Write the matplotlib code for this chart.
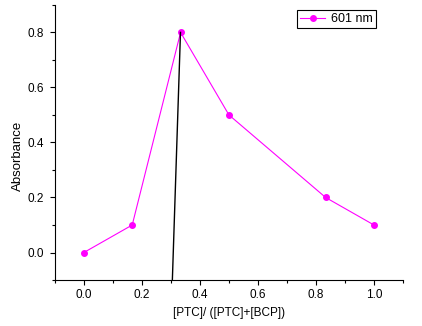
import numpy as np
from matplotlib import pyplot as plt
from matplotlib.ticker import MultipleLocator

# mole fraction data
mole_frac = [0.0, 1/6, 1/3, 0.5, 5/6, 1.0]
absorb = [0.0, 0.1, 0.8, 0.5, 0.2, 0.1]

# extrapolation line
line_x = [0.305, 0.333]
line_y = [-0.1, 0.8]

plt.rcParams['font.family'] = ['Liberation Sans', 'DejaVu Sans']
plt.rcParams['font.size'] = 8.5

fig = plt.figure(figsize=(4.22, 3.26), dpi=100)
ax = fig.add_axes([0.130, 0.141, 0.825, 0.844])

ax.plot(mole_frac, absorb, color='#ff00ff', lw=0.8, marker='o', ms=4, label='601 nm')
ax.plot(line_x, line_y, color='black', lw=1.0)

ax.set_xlim(-0.1, 1.1)
ax.set_ylim(-0.1, 0.9)
ax.xaxis.set_major_locator(MultipleLocator(0.2))
ax.xaxis.set_minor_locator(MultipleLocator(0.1))
ax.yaxis.set_major_locator(MultipleLocator(0.2))
ax.yaxis.set_minor_locator(MultipleLocator(0.1))
ax.tick_params(which='major', direction='out', length=3.6, width=0.8)
ax.tick_params(which='minor', direction='out', length=2, width=0.8)
ax.tick_params(axis='y', pad=4)
ax.tick_params(axis='x', pad=3)

for s in ['top', 'right']:
    ax.spines[s].set_visible(False)

ax.set_xlabel('[PTC]/ ([PTC]+[BCP])', labelpad=4)
ax.set_ylabel('Absorbance', fontsize=9.5)
ax.yaxis.set_label_coords(-0.09, 0.45)

leg = ax.legend(loc='upper right', bbox_to_anchor=(0.93, 0.99), fancybox=False,
                edgecolor='black', framealpha=1, handlelength=2.0, fontsize=9,
                borderpad=0.25, borderaxespad=0.2, handletextpad=0.5)
leg.get_frame().set_linewidth(0.8)

fig.savefig('out.png', dpi=100)
